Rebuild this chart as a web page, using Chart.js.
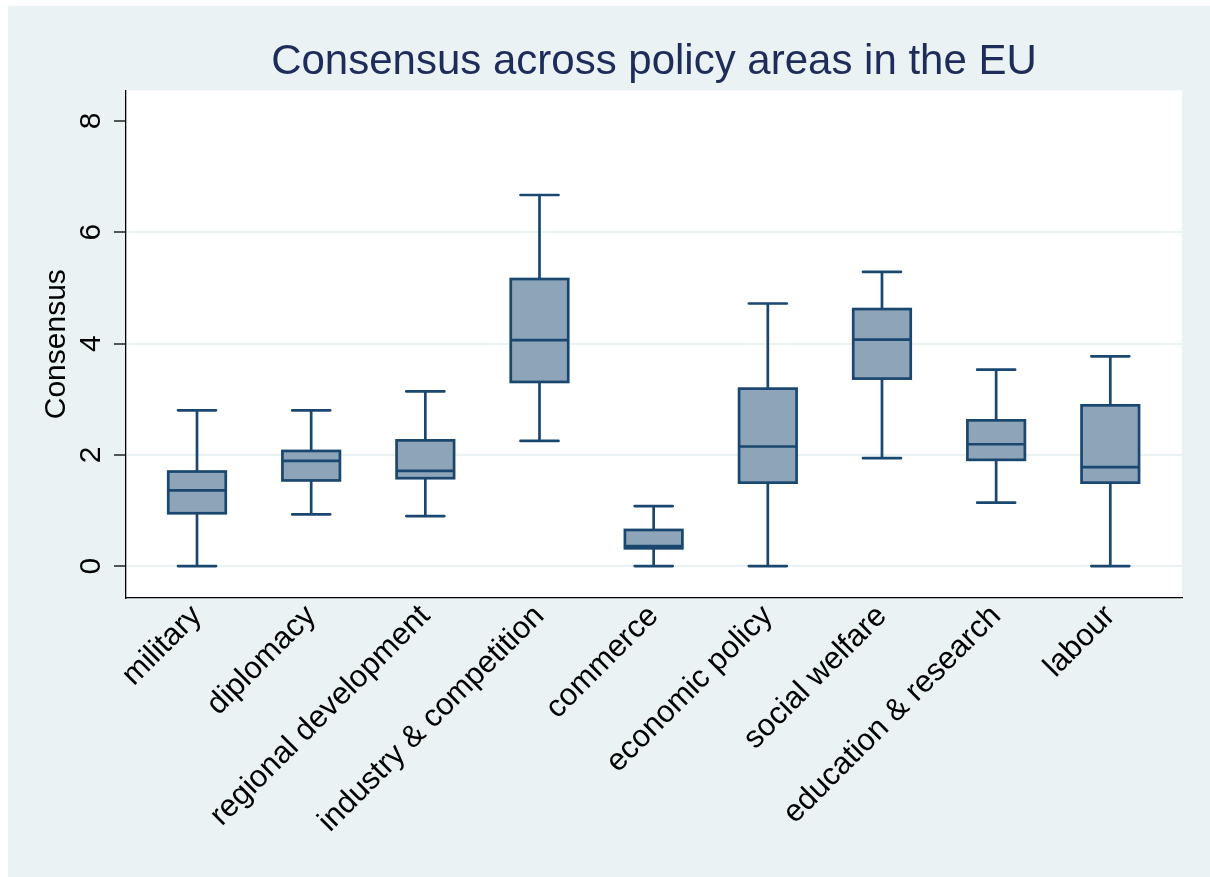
<!DOCTYPE html>
<html>
<head>
<meta charset="utf-8">
<title>Consensus across policy areas in the EU</title>
<script src="https://cdn.jsdelivr.net/npm/chart.js@4.4.0/dist/chart.umd.min.js"></script>
<style>
    html, body { margin: 0; padding: 0; background: #ffffff; }
    #boxChart { position: absolute; left: 8px; top: 6px; }
</style>
</head>
<body>
<canvas id="boxChart" width="1202" height="871"></canvas>
<script>
// policy areas, left to right
var areas = ['military', 'diplomacy', 'regional development', 'industry & competition',
    'commerce', 'economic policy', 'social welfare', 'education & research', 'labour'];

// box plot summaries
var whiskerLow  = [0.00, 0.93, 0.90, 2.25, 0.00, 0.00, 1.94, 1.14, 0.00];
var quartile1   = [0.95, 1.54, 1.58, 3.31, 0.32, 1.50, 3.37, 1.91, 1.50];
var medians     = [1.36, 1.89, 1.71, 4.06, 0.36, 2.15, 4.07, 2.19, 1.78];
var quartile3   = [1.70, 2.07, 2.26, 5.16, 0.65, 3.19, 4.62, 2.62, 2.89];
var whiskerHigh = [2.80, 2.80, 3.14, 6.67, 1.08, 4.72, 5.29, 3.53, 3.77];

var yTicks = [0, 2, 4, 6, 8];

var LINE = '#1A476F';
var FILL = '#8EA4B8';
var BG = '#EAF2F3';

Chart.defaults.font.family = "'Liberation Sans', Arial, sans-serif";
Chart.defaults.color = '#000';

// region colours (stata style graph region + white plot region)
var backdrop = {
    id: 'backdrop',
    beforeDraw: function (chart) {
        var ctx = chart.ctx, a = chart.chartArea;
        ctx.save();
        ctx.fillStyle = BG;
        ctx.fillRect(0, 0, chart.width, chart.height);
        ctx.fillStyle = '#ffffff';
        ctx.fillRect(a.left, a.top, a.right - a.left, a.bottom - a.top);
        ctx.restore();
    }
};

// outline, median and whiskers on top of the bar boxes
var boxLines = {
    id: 'boxLines',
    afterDatasetsDraw: function (chart) {
        var ctx = chart.ctx;
        var xs = chart.scales.x, ys = chart.scales.y;
        var bars = chart.getDatasetMeta(0).data;
        ctx.save();
        ctx.strokeStyle = LINE;
        ctx.lineWidth = 2.7;
        bars.forEach(function (bar, i) {
            var cx = xs.getPixelForValue(i);
            var half = bar.width / 2;
            var capHalf = 19;
            var yLo = ys.getPixelForValue(whiskerLow[i]);
            var yQ1 = ys.getPixelForValue(quartile1[i]);
            var yMed = ys.getPixelForValue(medians[i]);
            var yQ3 = ys.getPixelForValue(quartile3[i]);
            var yHi = ys.getPixelForValue(whiskerHigh[i]);

            ctx.lineCap = 'butt';
            ctx.beginPath();
            ctx.moveTo(cx, yQ3); ctx.lineTo(cx, yHi);
            ctx.moveTo(cx, yQ1); ctx.lineTo(cx, yLo);
            ctx.stroke();

            ctx.lineCap = 'round';
            ctx.beginPath();
            ctx.moveTo(cx - capHalf, yHi); ctx.lineTo(cx + capHalf, yHi);
            ctx.moveTo(cx - capHalf, yLo); ctx.lineTo(cx + capHalf, yLo);
            ctx.stroke();

            ctx.lineCap = 'butt';
            ctx.strokeRect(cx - half, yQ3, half * 2, yQ1 - yQ3);
            ctx.beginPath();
            ctx.moveTo(cx - half, yMed); ctx.lineTo(cx + half, yMed);
            ctx.stroke();
        });
        ctx.restore();
    }
};

var boxData = areas.map(function (a, i) {
    return { x: i, y: [quartile1[i], quartile3[i]] };
});

var chart = new Chart(document.getElementById('boxChart'), {
    type: 'bar',
    data: {
        datasets: [{
            data: boxData,
            backgroundColor: FILL,
            borderWidth: 0,
            barThickness: 57.5
        }]
    },
    options: {
        responsive: false,
        devicePixelRatio: 1,
        animation: false,
        layout: { padding: { left: 0, right: 28, top: 0, bottom: 0 } },
        plugins: {
            legend: { display: false },
            tooltip: { enabled: false },
            title: {
                display: true,
                text: 'Consensus across policy areas in the EU',
                color: '#1E2C5A',
                fullSize: false,
                font: { size: 42, weight: 'normal' },
                padding: { top: 31, bottom: 3 }
            }
        },
        scales: {
            x: {
                type: 'linear',
                offset: false,
                min: -0.622,
                max: 8.628,
                afterBuildTicks: function (scale) {
                    scale.ticks = areas.map(function (a, i) { return { value: i }; });
                },
                afterFit: function (scale) { scale.height = 279; },
                ticks: {
                    autoSkip: false,
                    minRotation: 45,
                    maxRotation: 45,
                    padding: 0,
                    font: { size: 31 },
                    callback: function (v) { return areas[v]; }
                },
                grid: { display: true, drawOnChartArea: false, drawTicks: false },
                border: { color: '#000', width: 1.3 }
            },
            y: {
                min: -0.573,
                max: 8.55,
                afterBuildTicks: function (scale) {
                    scale.ticks = yTicks.map(function (v) { return { value: v }; });
                },
                afterFit: function (scale) { scale.width = 118; },
                ticks: {
                    minRotation: 90,
                    maxRotation: 90,
                    crossAlign: 'center',
                    padding: 14,
                    font: { size: 30 }
                },
                grid: {
                    color: function (c) { return c.tick && c.tick.value === 8 ? 'rgba(0,0,0,0)' : BG; },
                    lineWidth: 2,
                    tickLength: 12,
                    tickColor: '#000',
                    tickWidth: 1.3
                },
                border: { color: '#000', width: 1.3 },
                title: {
                    display: true,
                    text: 'Consensus',
                    font: { size: 30 },
                    padding: { top: 31, bottom: 0 }
                }
            }
        }
    },
    plugins: [backdrop, boxLines]
});
</script>
</body>
</html>
